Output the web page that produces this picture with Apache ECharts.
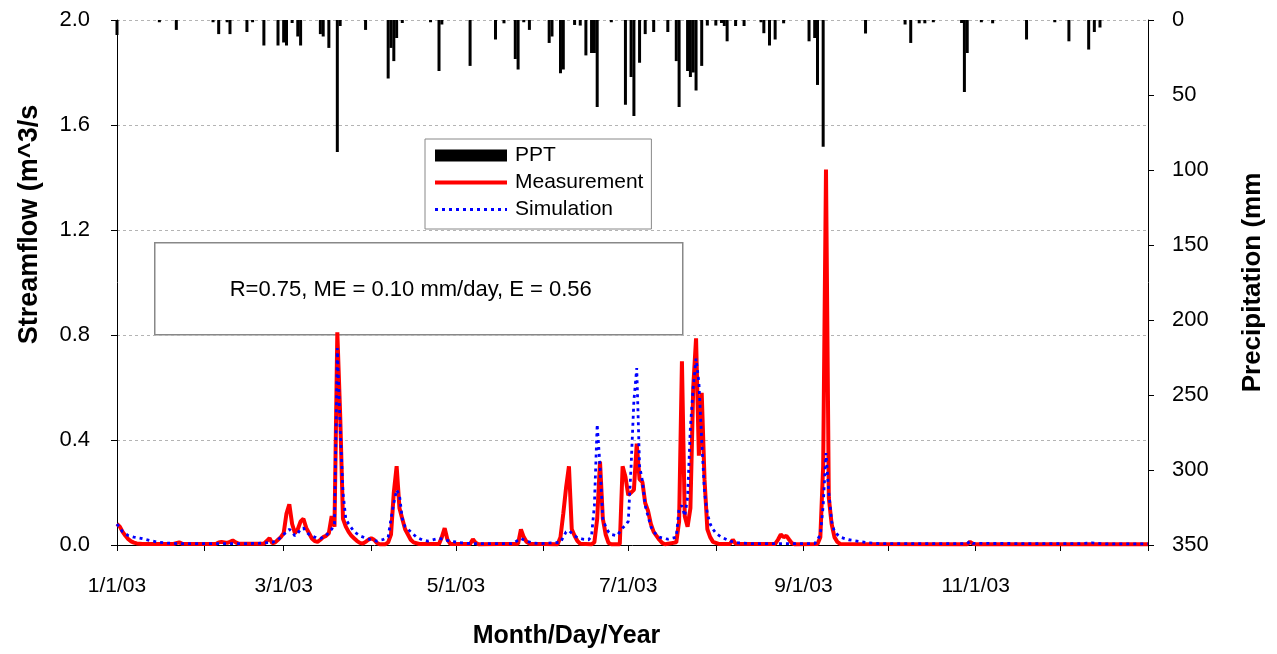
<!DOCTYPE html>
<html>
<head>
<meta charset="utf-8">
<script src="https://cdn.jsdelivr.net/npm/echarts@6/dist/echarts.min.js"></script>
<style>html,body{margin:0;padding:0;background:#fff;}#c{width:1277px;height:654px;}</style>
</head>
<body>
<div id="c"></div>
<script>
// Daily precipitation [dayIndex from 1/1/03, mm]
const precipitation = [[0,10],[15,1.5],[21,6.6],[34,1.5],[36,9.4],[39,1.5],[40,9.4],[46,8],[48,1.5],[52,17],[57,17],[59,15],[60,17],[62,2],[64,11],[65,17],[72,9.4],[73,11],[75,18.6],[78,88],[79,4],[88,6.6],[96,39],[97,18.6],[98,27.4],[99,12],[101,2],[111,1.5],[114,34],[115,3],[125,30.6],[134,13],[137,2.2],[141,26],[142,33],[144,1.5],[146,6.6],[153,15.3],[154,11],[157,35.5],[158,33],[162,3.3],[164,3.7],[166,23.6],[168,22],[169,22],[170,58],[175,1.5],[180,56.5],[182,38],[183,64],[185,28.5],[187,9.4],[190,8],[195,8],[198,27.4],[199,58],[202,34],[203,38],[204,35],[205,47],[207,30.6],[209,3.7],[212,3.7],[214,2],[215,4],[216,14.2],[219,4],[222,4],[228,1.5],[229,8.8],[231,17],[233,13],[236,2.2],[245,14.2],[247,12],[248,43.3],[250,84.5],[265,9],[279,3],[281,15.3],[284,2.2],[286,2.2],[289,1.5],[299,2],[300,48],[301,22],[306,1.5],[310,2.2],[322,13],[332,1.5],[337,14.2],[344,19.7],[346,8],[348,5]];

// Measured streamflow [dayIndex, m^3/s]
const measurement = [[0,0.08],[1,0.07],[2,0.05],[3,0.035],[4,0.022],[5,0.014],[6,0.009],[7,0.006],[9,0.004],[20,0.004],[21,0.007],[22,0.01],[23,0.005],[35,0.004],[36,0.01],[37,0.012],[38,0.01],[39,0.008],[40,0.012],[41,0.017],[42,0.01],[43,0.005],[52,0.005],[53,0.015],[54,0.026],[55,0.006],[56,0.01],[57,0.02],[58,0.03],[59,0.045],[60,0.12],[61,0.155],[62,0.08],[63,0.045],[64,0.06],[65,0.09],[66,0.1],[67,0.065],[68,0.045],[69,0.025],[70,0.015],[71,0.012],[72,0.02],[73,0.03],[74,0.035],[75,0.045],[76,0.11],[77,0.07],[78,0.81],[79,0.5],[80,0.1],[81,0.07],[82,0.05],[83,0.035],[84,0.025],[85,0.015],[86,0.008],[87,0.005],[88,0.012],[89,0.02],[90,0.026],[91,0.02],[92,0.008],[93,0.003],[95,0.003],[96,0.01],[97,0.04],[98,0.2],[99,0.3],[100,0.14],[101,0.1],[102,0.06],[103,0.04],[104,0.02],[105,0.01],[107,0.004],[114,0.004],[115,0.03],[116,0.064],[117,0.02],[118,0.004],[125,0.004],[126,0.022],[127,0.008],[128,0.003],[142,0.005],[143,0.059],[144,0.03],[145,0.012],[146,0.005],[156,0.003],[157,0.03],[158,0.12],[159,0.22],[160,0.3],[161,0.06],[162,0.035],[163,0.015],[164,0.005],[168,0.003],[169,0.01],[170,0.1],[171,0.318],[172,0.1],[173,0.04],[174,0.008],[175,0.003],[178,0.003],[179,0.3],[180,0.26],[181,0.19],[182,0.2],[183,0.21],[184,0.386],[185,0.25],[186,0.24],[187,0.16],[188,0.13],[189,0.08],[190,0.05],[191,0.035],[192,0.02],[193,0.008],[194,0.003],[198,0.01],[199,0.09],[200,0.7],[201,0.11],[202,0.07],[203,0.14],[204,0.6],[205,0.787],[206,0.34],[207,0.58],[208,0.25],[209,0.06],[210,0.03],[211,0.012],[213,0.004],[217,0.004],[218,0.02],[219,0.005],[233,0.004],[234,0.02],[235,0.04],[236,0.03],[237,0.035],[238,0.02],[239,0.006],[240,0.003],[248,0.004],[249,0.03],[250,0.3],[251,1.43],[252,0.18],[253,0.08],[254,0.03],[255,0.012],[256,0.004],[301,0.003],[302,0.012],[303,0.005],[304,0.003],[365,0.003]];

// Simulated streamflow [dayIndex, m^3/s]
const simulation = [[0,0.08],[1,0.065],[2,0.05],[4,0.036],[6,0.03],[9,0.024],[12,0.016],[15,0.01],[18,0.007],[22,0.005],[40,0.005],[50,0.006],[55,0.01],[57,0.02],[59,0.04],[60,0.05],[61,0.06],[62,0.05],[63,0.035],[64,0.045],[65,0.06],[66,0.065],[67,0.05],[68,0.04],[70,0.03],[72,0.025],[74,0.035],[75,0.05],[76,0.06],[77,0.08],[78,0.75],[79,0.45],[80,0.2],[81,0.1],[82,0.08],[84,0.05],[86,0.035],[88,0.026],[90,0.02],[92,0.015],[94,0.02],[96,0.03],[97,0.1],[98,0.16],[99,0.21],[100,0.19],[101,0.1],[102,0.07],[104,0.05],[106,0.03],[108,0.02],[110,0.015],[114,0.026],[116,0.02],[118,0.015],[122,0.008],[126,0.005],[140,0.005],[143,0.025],[145,0.015],[147,0.008],[150,0.005],[157,0.01],[158,0.03],[159,0.05],[160,0.055],[161,0.045],[162,0.035],[163,0.028],[165,0.022],[167,0.02],[168,0.035],[169,0.15],[170,0.46],[171,0.3],[172,0.1],[173,0.07],[174,0.05],[175,0.04],[177,0.035],[178,0.05],[179,0.065],[180,0.075],[181,0.09],[182,0.3],[183,0.55],[184,0.674],[185,0.3],[186,0.245],[187,0.15],[188,0.11],[189,0.07],[190,0.05],[192,0.03],[195,0.022],[198,0.03],[199,0.14],[200,0.15],[201,0.11],[202,0.18],[203,0.45],[204,0.6],[205,0.71],[206,0.62],[207,0.4],[208,0.2],[209,0.12],[210,0.08],[211,0.06],[212,0.045],[214,0.03],[217,0.015],[220,0.008],[225,0.005],[247,0.005],[248,0.02],[249,0.04],[250,0.15],[251,0.35],[252,0.2],[253,0.09],[254,0.05],[256,0.03],[259,0.02],[262,0.015],[266,0.008],[270,0.005],[301,0.005],[302,0.015],[303,0.006],[340,0.005],[345,0.008],[350,0.004],[365,0.004]];

const seriesNames = ['PPT', 'Measurement', 'Simulation'];
const statsText = 'R=0.75, ME = 0.10 mm/day, E = 0.56';

// x-axis categories: each day from 1/1/03 through 1/1/04
const days = [];
for (let i = 0; i <= 365; i++) {
  const d = new Date(Date.UTC(2003, 0, 1 + i));
  days.push((d.getUTCMonth() + 1) + '/' + d.getUTCDate() + '/' + String(d.getUTCFullYear()).slice(2));
}

const FONT = 'Liberation Sans';
const chart = echarts.init(document.getElementById('c'), null, {renderer: 'canvas'});
chart.setOption({
  animation: false,
  backgroundColor: '#fff',
  grid: {left: 117, right: 129, top: 20, bottom: 101, containLabel: false},
  legend: {
    data: [
      {name: 'PPT', icon: 'rect'},
      {name: 'Measurement', itemStyle: {opacity: 0}, lineStyle: {width: 4}},
      {name: 'Simulation', itemStyle: {opacity: 0}, lineStyle: {width: 2.8}}
    ],
    orient: 'vertical', left: 425, top: 139,
    backgroundColor: '#fff', borderColor: '#888', borderWidth: 1,
    padding: [6, 8, 9, 8], itemWidth: 72, itemHeight: 12, itemGap: 6,
    textStyle: {fontFamily: FONT, fontSize: 21, color: '#000', padding: [0, 0, 0, 3], lineHeight: 20}
  },
  xAxis: {
    type: 'category', data: days, boundaryGap: false,
    axisLine: {lineStyle: {color: '#000', width: 1}},
    axisTick: {length: 6, lineStyle: {color: '#000'}, interval: (i, v) => v.split('/')[1] === '1'},
    axisLabel: {
      margin: 31, fontFamily: FONT, fontSize: 21, color: '#000',
      interval: (i, v) => { const p = v.split('/'); return p[1] === '1' && p[2] === '03' && (+p[0]) % 2 === 1; }
    },
    splitLine: {show: false},
    name: 'Month/Day/Year', nameLocation: 'middle', nameGap: 79,
    nameTextStyle: {fontFamily: FONT, fontWeight: 'bold', fontSize: 25, color: '#000', padding: [0, 132, 0, 0]}
  },
  yAxis: [{
    type: 'value', min: 0, max: 2.0, interval: 0.4,
    axisLine: {show: true, lineStyle: {color: '#000'}},
    axisTick: {show: true, length: 6, lineStyle: {color: '#000'}},
    axisLabel: {margin: 27, fontFamily: FONT, fontSize: 22, color: '#000', formatter: v => v.toFixed(1)},
    splitLine: {show: true, lineStyle: {color: '#b4b4b4', type: [3, 3], width: 1}},
    name: 'Streamflow (m^3/s', nameLocation: 'middle', nameRotate: 90, nameGap: 74,
    nameTextStyle: {fontFamily: FONT, fontWeight: 'bold', fontSize: 27, color: '#000', padding: [0, 0, 0, 116]}
  }, {
    type: 'value', min: 0, max: 350, interval: 50, inverse: true, position: 'right',
    axisLine: {show: true, lineStyle: {color: '#000'}},
    axisTick: {show: true, length: 6, lineStyle: {color: '#000'}},
    axisLabel: {margin: 24, fontFamily: FONT, fontSize: 22, color: '#000'},
    splitLine: {show: false},
    name: 'Precipitation (mm', nameLocation: 'middle', nameRotate: 90, nameGap: 92,
    nameTextStyle: {fontFamily: FONT, fontWeight: 'bold', fontSize: 26, color: '#000'}
  }],
  graphic: [{
    type: 'group', left: 154, top: 242, z: 10,
    children: [
      {type: 'rect', shape: {x: 0, y: 0, width: 528, height: 92}, style: {fill: '#fff', stroke: '#888', lineWidth: 1.5}},
      {type: 'text', x: 256, y: 47, style: {text: statsText, fontFamily: FONT, fontSize: 22, fill: '#000', align: 'center', verticalAlign: 'middle'}}
    ]
  }],
  series: [{
    name: seriesNames[0], type: 'bar', yAxisIndex: 1, data: precipitation,
    barWidth: 3, itemStyle: {color: '#000'}
  }, {
    name: seriesNames[1], type: 'line', yAxisIndex: 0, data: measurement,
    symbol: 'none', lineStyle: {color: '#ff0000', width: 4}, itemStyle: {color: '#ff0000'}
  }, {
    name: seriesNames[2], type: 'line', yAxisIndex: 0, data: simulation,
    symbol: 'none', lineStyle: {color: '#0000ff', width: 2.8, type: [3, 4]}, itemStyle: {color: '#0000ff'}
  }]
});
</script>
</body>
</html>
